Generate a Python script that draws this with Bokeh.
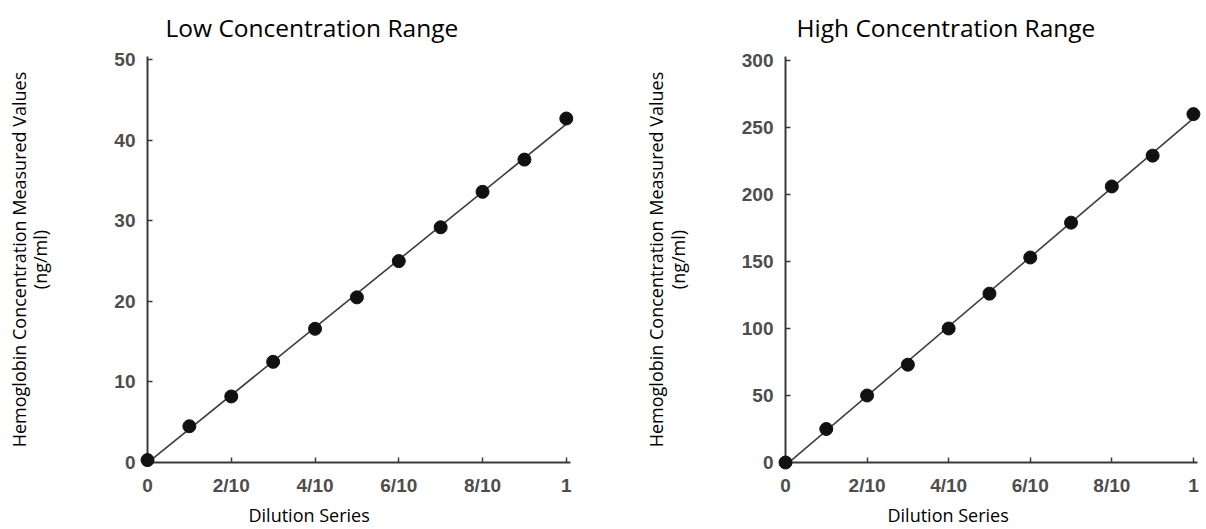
import numpy as np
from bokeh.plotting import figure
from bokeh.layouts import row
from bokeh.models import FixedTicker, Title, Range1d
from bokeh.embed import file_html
from bokeh.resources import INLINE

# ---- data ----
dilution = [0.0, 0.1, 0.2, 0.3, 0.4, 0.5, 0.6, 0.7, 0.8, 0.9, 1.0]
x_tick_values = [0, 0.2, 0.4, 0.6, 0.8, 1]
x_tick_labels = ["0", "2/10", "4/10", "6/10", "8/10", "1"]

low_values = [0.3, 4.5, 8.2, 12.5, 16.6, 20.5, 25.0, 29.2, 33.6, 37.6, 42.7]
low_y_ticks = [0, 10, 20, 30, 40, 50]

high_values = [0.0, 25.0, 50.0, 73.0, 100.0, 126.0, 153.0, 179.0, 206.0, 229.0, 260.0]
high_y_ticks = [0, 50, 100, 150, 200, 250, 300]

titles = ["Low Concentration Range", "High Concentration Range"]
y_label = "Hemoglobin Concentration Measured Values\n(ng/ml)"
x_label = "Dilution Series"

TICK_FONT = "Liberation Sans"
TEXT_FONT = "Open Sans"


def make_panel(title, values, yticks, y_end, width, height,
               b_left, b_right, b_top, b_bottom, x_standoff,
               title_offset, xlabel_offset, ylabel_standoff):
    p = figure(width=width, height=height, output_backend="svg",
               toolbar_location=None,
               x_range=Range1d(0, 1.01), y_range=Range1d(0, y_end),
               min_border_left=b_left, min_border_right=b_right,
               min_border_top=b_top, min_border_bottom=b_bottom,
               title=title)
    p.outline_line_color = None
    p.background_fill_color = "white"
    p.border_fill_color = "white"
    p.xgrid.visible = False
    p.ygrid.visible = False

    p.title.align = "left"
    p.title.vertical_align = "top"
    p.title.offset = title_offset
    p.title.standoff = 21
    p.title.text_font = TEXT_FONT
    p.title.text_font_size = "24.5px"
    p.title.text_font_style = "normal"
    p.title.text_color = "black"

    # regression line through the data
    slope, intercept = np.polyfit(dilution, values, 1)
    fx = [0.0, 1.0]
    fy = [intercept + slope * v for v in fx]
    p.line(fx, fy, line_color="#3c3c3c", line_width=1.6)
    p.scatter(dilution, values, size=13, fill_color="#111111",
              line_color="#111111", level="overlay")

    for ax in (p.xaxis[0], p.yaxis[0]):
        ax.axis_line_color = "#3a3a3a"
        ax.axis_line_width = 2
        ax.major_tick_line_color = "#3a3a3a"
        ax.major_tick_line_width = 1.5
        ax.major_tick_in = 5
        ax.major_tick_out = 0
        ax.minor_tick_in = 0
        ax.minor_tick_out = 0
        ax.major_label_text_font = TICK_FONT
        ax.major_label_text_font_size = "19px"
        ax.major_label_text_font_style = "bold"
        ax.major_label_text_color = "#4d4d4d"

    p.xaxis.ticker = FixedTicker(ticks=x_tick_values)
    p.xaxis.major_label_overrides = dict(zip(x_tick_values, x_tick_labels))
    p.xaxis.major_label_standoff = x_standoff

    p.yaxis.ticker = FixedTicker(ticks=yticks)
    p.yaxis.major_label_standoff = 12

    p.yaxis.axis_label = y_label
    p.yaxis.axis_label_text_font = TEXT_FONT
    p.yaxis.axis_label_text_font_size = "18px"
    p.yaxis.axis_label_text_font_style = "normal"
    p.yaxis.axis_label_text_color = "black"
    p.yaxis.axis_label_text_line_height = 0.9
    p.yaxis.axis_label_standoff = ylabel_standoff

    p.add_layout(Title(text=x_label, align="left", offset=xlabel_offset,
                       text_font=TEXT_FONT, text_font_size="18px",
                       text_font_style="normal", text_color="black",
                       standoff=5), "below")
    return p


p1 = make_panel(titles[0], low_values, low_y_ticks, 50.4,
                width=600, height=529, b_left=147, b_right=30,
                b_top=55, b_bottom=67, x_standoff=12,
                title_offset=18, xlabel_offset=101, ylabel_standoff=59)
p2 = make_panel(titles[1], high_values, high_y_ticks, 303,
                width=606, height=529, b_left=185, b_right=9,
                b_top=55, b_bottom=67, x_standoff=12,
                title_offset=11, xlabel_offset=102, ylabel_standoff=49)

layout = row(p1, p2)
open("out.html", "w").write(file_html(layout, INLINE))
